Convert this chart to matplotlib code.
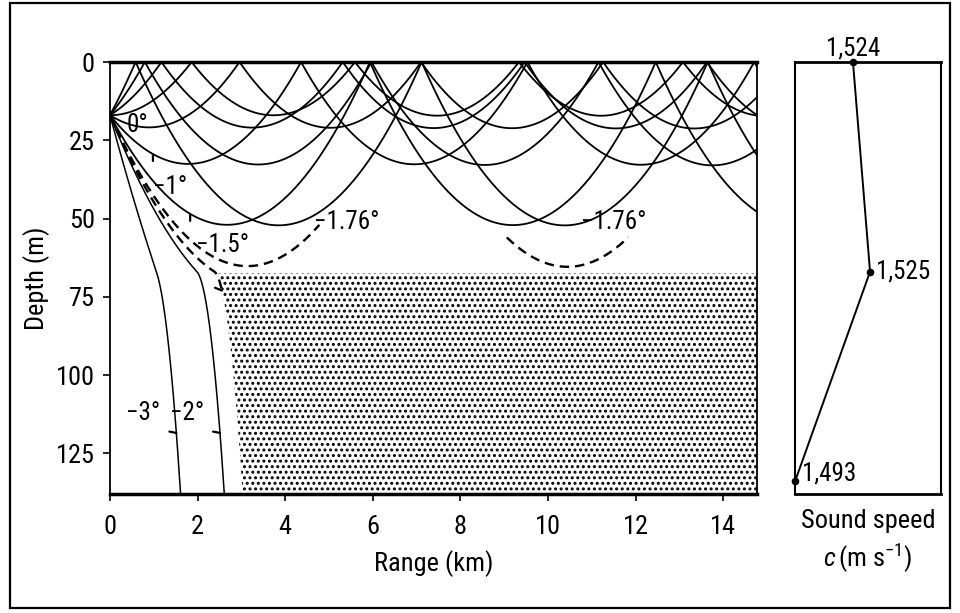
import numpy as np
import matplotlib
matplotlib.use("Agg")
import matplotlib.pyplot as plt
from matplotlib.patches import Rectangle
from matplotlib import font_manager as fm

names = {f.name for f in fm.fontManager.ttflist}
cands = ['Roboto Condensed', 'Noto Sans Condensed', 'Liberation Sans Narrow',
         'Open Sans Condensed', 'Noto Sans Display Condensed']
avail = [c for c in cands if c in names]
main_font = avail[0] if avail else 'Liberation Sans'
plt.rcParams['font.family'] = [main_font, 'DejaVu Sans']
plt.rcParams['mathtext.fontset'] = 'custom'
plt.rcParams['mathtext.rm'] = main_font
plt.rcParams['mathtext.it'] = main_font + ':italic'
plt.rcParams['hatch.linewidth'] = 1.4

# ---------------- data ----------------
# sound-speed profile (depth m, speed m/s)
ssp_depth = [0, 67, 134]
ssp_speed = [1524, 1525, 1493]
ssp_labels = ['1,524', '1,525', '1,493']

source_depth = 17.0          # m
# launch angles in degrees (positive = upward)
duct_angles = [0.0, 0.5, -0.5, 1.0, -1.0, 1.5, -1.5]
critical_angle = -1.76       # last ray trapped in the duct (dashed)
shadow_angle = -1.87         # limiting ray bounding the shadow zone (dashed)
deep_angles = [-2.0, -3.0]

angle_labels = ['0°', '−1°', '−1.5°', '−1.76°', '−1.76°', '−2°', '−3°']

x_ticks = [0, 2, 4, 6, 8, 10, 12, 14]
y_ticks = [0, 25, 50, 75, 100, 125]
x_max = 14.77
z_max = 138.0

# ---------------- ray tracing ----------------
d = np.array(ssp_depth, float)
s = np.array(ssp_speed, float)
grads = np.diff(s) / np.diff(d)


def layer(z):
    for i in range(len(grads)):
        if z < d[i + 1]:
            return i
    return len(grads) - 1


def trace(angle_deg, ds=4.0):
    th = -np.radians(angle_deg)  # positive downward
    x, z = 0.0, source_depth
    xs, zs, bs = [x], [z], [0]
    bounce = 0
    while x < x_max * 1000 and z < z_max:
        i = layer(z)
        g = grads[i]
        c = s[i] + g * (z - d[i])
        th_mid = th - 0.5 * ds * np.cos(th) * g / c
        x += ds * np.cos(th_mid)
        z += ds * np.sin(th_mid)
        th -= ds * np.cos(th_mid) * g / c
        if z < 0:
            z = -z
            th = -th
            bounce += 1
        xs.append(x)
        zs.append(z)
        bs.append(bounce)
    return np.array(xs) / 1000.0, np.array(zs), np.array(bs)


fig = plt.figure(figsize=(9.6, 6.13), dpi=100)
ax = fig.add_axes([110 / 960, 1 - 494 / 613, (757 - 110) / 960, (494 - 62) / 613])

ray_kw = dict(color='black', lw=1.3, solid_capstyle='round')
rays = {}
for a in duct_angles:
    xr, zr, _ = trace(a)
    rays[a] = (xr, zr)
    ax.plot(xr, zr, **ray_kw)

for a in deep_angles:
    xr, zr, _ = trace(a)
    rays[a] = (xr, zr)
    ax.plot(xr, zr, color='black', lw=1.1)

# critical (dashed) ray: shown only near its troughs
xr, zr, br = trace(critical_angle)
first = br == 0
xb = xr[first][np.argmax(zr[first])]
m1 = first & ((xr <= xb) | (zr >= 52))
m2 = (br == 1) & (zr >= 56)
for m in (m1, m2):
    ax.plot(np.where(m, xr, np.nan), np.where(m, zr, np.nan), color='black',
            lw=1.7, ls=(0, (4, 2.5)))

# limiting ray and shadow zone
xs_, zs_, _ = trace(shadow_angle)
rays[shadow_angle] = (xs_, zs_)
ms = zs_ <= 74
ax.plot(xs_[ms], zs_[ms], color='black', lw=1.7, ls=(0, (4, 2.5)))
deep = zs_ >= d[1]
zz = np.linspace(d[1] + 0.5, z_max, 200)
xl = np.interp(zz, zs_[deep], xs_[deep])
ax.fill_betweenx(zz, xl, x_max, facecolor='none', edgecolor='black',
                 hatch='...', linewidth=0)

# small barbs marking the labelled rays
barbs = [(-1.0, 0.98, (0, -5)), (-1.5, 1.83, (0, -5)),
         (-2.0, 118.5, (-5, 1)), (-3.0, 118.5, (-5, 1)),
         (shadow_angle, 73.0, (-5, 2))]
for a, pos, off in barbs:
    xr, zr = rays[a]
    if off[1] == -5:
        px, pz = pos, np.interp(pos, xr, zr)
    else:
        px, pz = np.interp(pos, zr, xr), pos
    ax.annotate('', xy=(px, pz), xytext=off, textcoords='offset points',
                arrowprops=dict(arrowstyle='-', lw=1.6, color='black',
                                shrinkA=0, shrinkB=0))

# angle labels
lab_pos = [(0.62, 20), (1.37, 40), (2.56, 58.5), (5.41, 51), (11.5, 51),
           (1.76, 112), (0.75, 112)]
for t, (lx, lz) in zip(angle_labels, lab_pos):
    ax.text(lx, lz, t, fontsize=18, ha='center', va='center')

ax.set_xlim(0, x_max)
ax.set_ylim(z_max, 0)
ax.set_xticks(x_ticks)
ax.set_yticks(y_ticks)
ax.tick_params(direction='out', length=5, width=1.2, labelsize=19)
ax.tick_params(axis='x', pad=10)
ax.tick_params(axis='y', pad=6)
for side in ('left', 'right'):
    ax.spines[side].set_linewidth(1.3)
ax.spines['top'].set_linewidth(2.5)
ax.spines['bottom'].set_linewidth(2.5)
ax.set_xlabel('Range (km)', fontsize=19, labelpad=8)
ax.set_ylabel('Depth (m)', fontsize=19, labelpad=4)

# ---------------- sound-speed panel ----------------
ax2 = fig.add_axes([795 / 960, 1 - 494 / 613, (941 - 795) / 960, (494 - 62) / 613])
fwd_c = [1493, 1524, 1525, 1527]
fwd_v = [0.0, 0.397, 0.514, 1.0]
ax2.set_xscale('function', functions=(lambda c: np.interp(c, fwd_c, fwd_v),
                                       lambda v: np.interp(v, fwd_v, fwd_c)))
ax2.plot(ssp_speed, ssp_depth, color='black', lw=1.4, marker='o', ms=4.5,
         clip_on=False)
ax2.set_xlim(1493, 1527)
ax2.set_ylim(z_max, 0)
ax2.set_xticks([])
ax2.set_yticks([])
for sp in ax2.spines.values():
    sp.set_linewidth(1.5)
ax2.spines['top'].set_linewidth(2.0)
ax2.spines['bottom'].set_linewidth(2.0)

ax2.annotate(ssp_labels[0], (ssp_speed[0], ssp_depth[0]), xytext=(0, 1),
             textcoords='offset points', ha='center', va='bottom', fontsize=18)
ax2.annotate(ssp_labels[1], (ssp_speed[1], ssp_depth[1]), xytext=(4, 0),
             textcoords='offset points', ha='left', va='center', fontsize=18)
ax2.annotate(ssp_labels[2], (ssp_speed[2], ssp_depth[2]), xytext=(5, -3),
             textcoords='offset points', ha='left', va='bottom', fontsize=18)
ax2.text(0.5, -0.035, 'Sound speed', transform=ax2.transAxes, ha='center',
         va='top', fontsize=19)
ax2.text(0.5, -0.11, r'$c\,$(m s$^{-1}$)', transform=ax2.transAxes,
         ha='center', va='top', fontsize=19)

# outer frame
fig.patches.append(Rectangle((10 / 960, 1 - 608 / 613), 940 / 960, 605 / 613,
                             transform=fig.transFigure, fill=False,
                             edgecolor='black', lw=1.6))

fig.savefig('out.png', dpi=100)
